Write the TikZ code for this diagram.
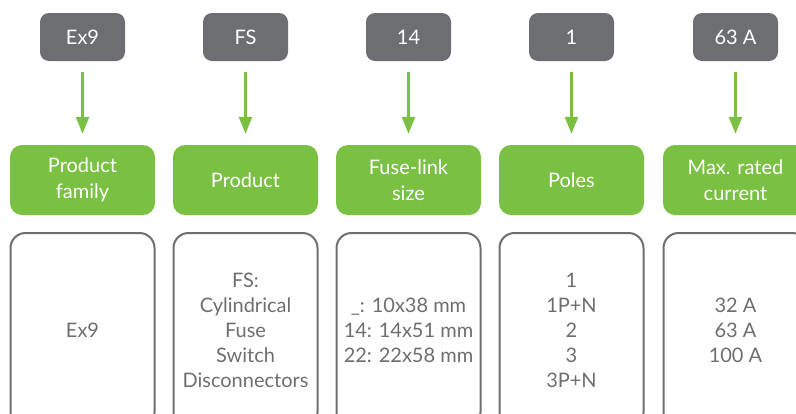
\documentclass[tikz,border=0pt]{standalone}
\usepackage{fontspec}
\setmainfont{Lato}
\usetikzlibrary{arrows.meta}
\definecolor{codegray}{HTML}{6D6E71}
\definecolor{codegreen}{HTML}{7AC143}
\tikzset{
    codebox/.style = {fill=codegray, text=white, rounded corners=9pt, minimum width=85pt, minimum height=48pt, inner sep=0pt, font=\fontsize{20}{25}\selectfont},
    fieldbox/.style = {fill=codegreen, text=white, rounded corners=12pt, minimum width=145pt, minimum height=70pt, inner sep=0pt, align=center, font=\fontsize{20}{26}\selectfont},
    optionbox/.style = {draw=codegray, line width=2pt, text=codegray, rounded corners=15pt, minimum width=144pt, minimum height=194pt, inner sep=0pt, align=center, font=\fontsize{20}{25}\selectfont},
    codearrow/.style = {draw=codegreen, line width=2.5pt, -{Triangle[width=13pt,length=17pt]}, shorten <=11pt, shorten >=11pt}
}
\begin{document}
\begin{tikzpicture}[x=1pt,y=-1pt]

    \clip (0,0) rectangle (796,413);

    \node [codebox] (cfamily) at (82.5,37) {Ex9};
    \node [codebox] (cproduct) at (245.5,37) {FS};
    \node [codebox] (csize) at (408.5,37) {14};
    \node [codebox] (cpoles) at (571.5,37) {1};
    \node [codebox] (ccurrent) at (735.5,37) {63 A};

    \node [fieldbox] (ffamily) at (82.5,180) {Product\\family};
    \node [fieldbox] (fproduct) at (245.5,180) {Product};
    \node [fieldbox] (fsize) at (408.5,180) {Fuse-link\\size};
    \node [fieldbox] (fpoles) at (571.5,180) {Poles};
    \node [fieldbox] (fcurrent) at (735.5,180) {Max. rated\\current};

    \node [optionbox] (ofamily) at (82.5,330) {Ex9};
    \node [optionbox] (oproduct) at (245.5,330) {FS:\\Cylindrical\\Fuse\\Switch\\Disconnectors};
    \node [optionbox] (osize) at (408.5,330) {\_: 10x38 mm\\14: 14x51 mm\\22: 22x58 mm};
    \node [optionbox] (opoles) at (571.5,330) {1\\1P+N\\2\\3\\3P+N};
    \node [optionbox] (ocurrent) at (735.5,330) {32 A\\63 A\\100 A};

    \draw [codearrow] (cfamily) -- (ffamily);
    \draw [codearrow] (cproduct) -- (fproduct);
    \draw [codearrow] (csize) -- (fsize);
    \draw [codearrow] (cpoles) -- (fpoles);
    \draw [codearrow] (ccurrent) -- (fcurrent);

\end{tikzpicture}
\end{document}
